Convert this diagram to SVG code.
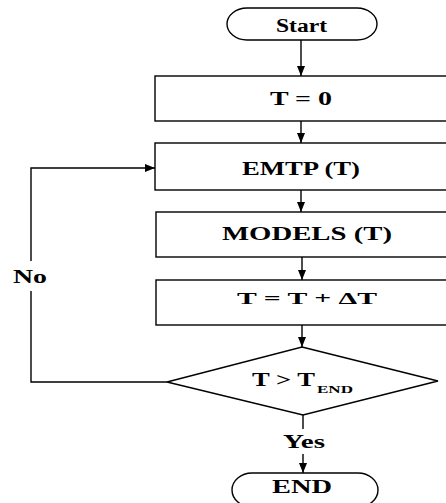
<svg xmlns="http://www.w3.org/2000/svg" width="446" height="503" viewBox="0 0 446 503">
  <defs>
    <marker id="arrow" viewBox="0 0 10 10" refX="10" refY="5" markerWidth="10" markerHeight="10" markerUnits="userSpaceOnUse" orient="auto">
      <path d="M0,1 L10,5 L0,9 Z" fill="#000"/>
    </marker>
    <style>
      .shape { fill: #fff; stroke: #000; stroke-width: 1.4; }
      .link { fill: none; stroke: #000; stroke-width: 1.4; }
      .arrow { marker-end: url(#arrow); }
      text { font-family: "Liberation Serif", "Times New Roman", serif; font-weight: bold; fill: #000; }
      .lbl { font-size: 18px; }
      .sm { font-size: 16px; }
      .sub { font-size: 11px; }
    </style>
  </defs>
  <rect width="446" height="503" fill="#fff"/>

  <g id="connectors">
    <line class="link arrow" x1="301" y1="40" x2="301" y2="76"/>
    <line class="link arrow" x1="301" y1="121" x2="301" y2="143"/>
    <line class="link arrow" x1="301" y1="190" x2="301" y2="212"/>
    <line class="link arrow" x1="302" y1="257" x2="302" y2="280"/>
    <line class="link arrow" x1="302" y1="325" x2="302" y2="347"/>
    <line class="link" x1="303" y1="415" x2="303" y2="429"/>
    <line class="link arrow" x1="303" y1="454" x2="303" y2="473"/>
    <polyline class="link" points="167,382 31,382 31,291"/>
    <polyline class="link arrow" points="31,261 31,168 155,168"/>
  </g>

  <g id="start">
    <rect class="shape" x="227" y="8" width="150" height="32" rx="20" ry="16"/>
    <text class="lbl" x="276" y="32" textLength="51" lengthAdjust="spacingAndGlyphs">Start</text>
  </g>

  <g id="init">
    <rect class="shape" x="155" y="76" width="295" height="45"/>
    <text class="lbl" x="270" y="105" textLength="62" lengthAdjust="spacingAndGlyphs">T = 0</text>
  </g>

  <g id="emtp">
    <rect class="shape" x="155" y="143" width="295" height="47"/>
    <text class="lbl" x="242" y="175" textLength="118" lengthAdjust="spacingAndGlyphs">EMTP (T)</text>
  </g>

  <g id="models">
    <rect class="shape" x="156" y="212" width="294" height="45"/>
    <text class="lbl" x="222" y="240" textLength="170" lengthAdjust="spacingAndGlyphs">MODELS (T)</text>
  </g>

  <g id="step">
    <rect class="shape" x="156" y="280" width="294" height="45"/>
    <text class="sm" x="237" y="304" textLength="140" lengthAdjust="spacingAndGlyphs">T = T + ΔT</text>
  </g>

  <g id="check">
    <polygon class="shape" points="302,347 438,381 303,415 167,382"/>
    <text class="lbl" x="252" y="386" textLength="63" lengthAdjust="spacingAndGlyphs">T &gt; T</text>
    <text class="sub" x="317" y="393" textLength="36" lengthAdjust="spacingAndGlyphs">END</text>
  </g>

  <g id="labels">
    <text class="lbl" x="13" y="283" textLength="34" lengthAdjust="spacingAndGlyphs">No</text>
    <text class="lbl" x="283" y="448" textLength="42" lengthAdjust="spacingAndGlyphs">Yes</text>
  </g>

  <g id="end">
    <rect class="shape" x="232" y="473" width="146" height="34" rx="20" ry="17"/>
    <text class="lbl" x="272" y="493" textLength="60" lengthAdjust="spacingAndGlyphs">END</text>
  </g>
</svg>
